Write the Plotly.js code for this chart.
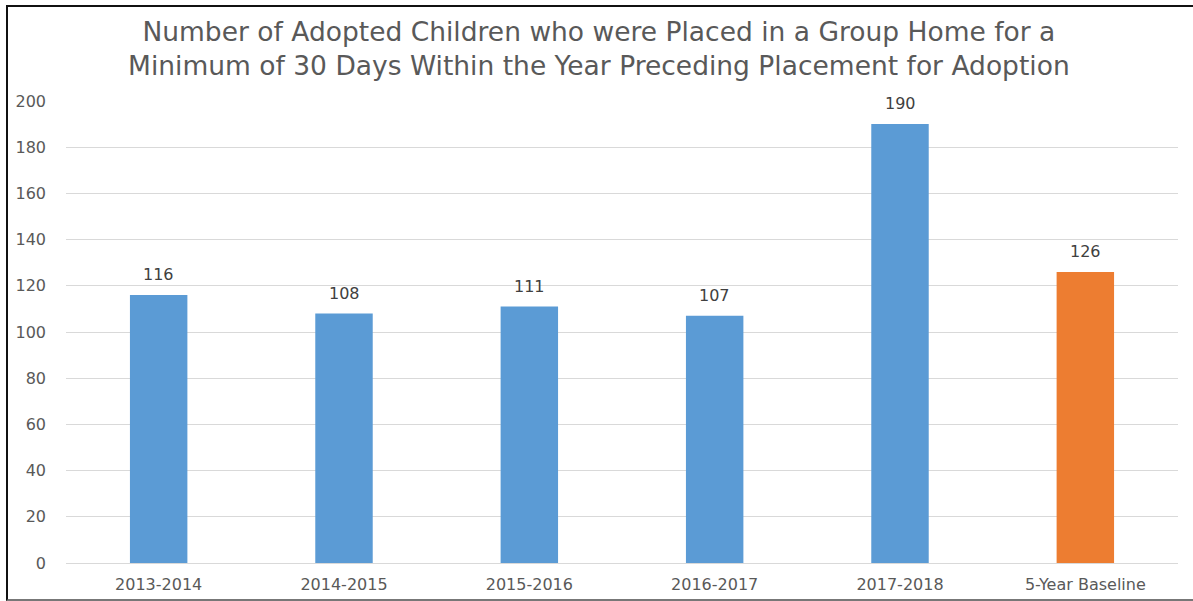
<!DOCTYPE html>
<html>
<head>
<meta charset="utf-8">
<script src="https://cdn.plot.ly/plotly-3.0.1.min.js"></script>
<style>
html,body{margin:0;padding:0;background:#fff;}
#wrap{position:relative;width:1193px;height:601px;overflow:hidden;}
#chart{position:absolute;left:0;top:0;width:1193px;height:601px;}
#frame{position:absolute;left:6px;top:5px;width:1200px;height:592px;border-top:2px solid #111;border-left:2px solid #111;border-bottom:2px solid #777;pointer-events:none;}
</style>
</head>
<body>
<div id="wrap">
<div id="chart"></div>
<div id="frame"></div>
</div>
<script>
const categories = ["2013-2014","2014-2015","2015-2016","2016-2017","2017-2018","5-Year Baseline"];
const values = [116,108,111,107,190,126];
const barColors = ["#5B9BD5","#5B9BD5","#5B9BD5","#5B9BD5","#5B9BD5","#ED7D31"];
const titleText = "Number of Adopted Children who were Placed in a Group Home for a<br>Minimum of 30 Days Within the Year Preceding Placement for Adoption";

const trace = {
  type: "bar",
  x: categories,
  y: values,
  marker: {color: barColors},
  hoverinfo: "none"
};

const labels = categories.map((c, i) => ({
  x: c, y: values[i],
  xref: "x", yref: "y",
  text: String(values[i]),
  showarrow: false,
  yanchor: "bottom",
  yshift: 9,
  font: {family: "DejaVu Sans, Verdana, sans-serif", size: 16, color: "#404040"}
}));

const layout = {
  width: 1193,
  height: 601,
  margin: {l: 66, r: 15, t: 101, b: 38},
  paper_bgcolor: "#fff",
  plot_bgcolor: "#fff",
  bargap: 0.69,
  showlegend: false,
  annotations: labels,
  title: {
    text: titleText,
    x: 0.502, xanchor: "center",
    y: 0.932, yanchor: "top",
    font: {family: "DejaVu Sans, Verdana, sans-serif", size: 26.5, color: "#595959"}
  },
  xaxis: {
    type: "category",
    showgrid: false,
    showline: true,
    linecolor: "#d9d9d9",
    linewidth: 1,
    ticks: "",
    ticklabelstandoff: 7,
    tickfont: {family: "DejaVu Sans, Verdana, sans-serif", size: 16, color: "#595959"}
  },
  yaxis: {
    range: [0, 200],
    dtick: 20,
    tick0: 0,
    showgrid: true,
    gridcolor: "#d9d9d9",
    gridwidth: 1,
    zeroline: false,
    showline: false,
    ticks: "",
    ticklabelstandoff: 19,
    tickfont: {family: "DejaVu Sans, Verdana, sans-serif", size: 16, color: "#595959"}
  }
};

Plotly.newPlot("chart", [trace], layout, {displayModeBar: false, staticPlot: true});
</script>
</body>
</html>
